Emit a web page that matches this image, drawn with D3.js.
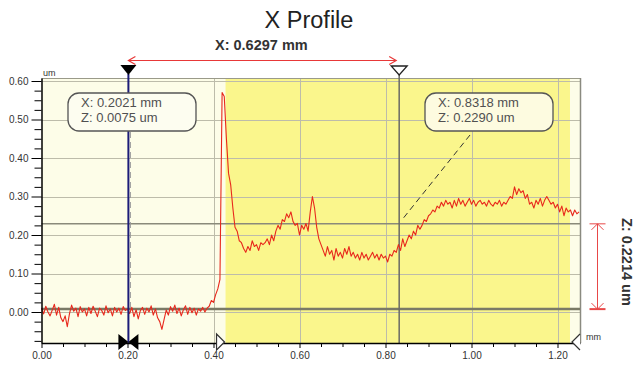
<!DOCTYPE html>
<html>
<head>
<meta charset="utf-8">
<script src="https://cdn.jsdelivr.net/npm/d3@7"></script>
<style>
  html, body { margin: 0; padding: 0; background: #ffffff; }
  svg { display: block; font-family: "Liberation Sans", Arial, sans-serif; }
</style>
</head>
<body>
<svg id="chart" width="637" height="367"></svg>
<script>
// ---------------- DATA ----------------
const titleText = "X Profile";
const xStart = 0.0;          // mm, first sample
const xStep = 0.005;         // mm, sampling interval
const profileZ = [
  0.010,-0.005,0.015,0.000,-0.010,0.005,0.020,-0.008,0.012,-0.015,
  -0.025,-0.010,-0.038,-0.005,0.018,0.002,0.010,-0.012,0.014,0.000,
  0.008,-0.010,0.012,-0.004,0.015,0.002,-0.012,0.010,0.004,-0.008,
  0.016,-0.002,0.008,-0.010,0.012,0.000,0.010,-0.006,0.014,0.004,
  0.008,-0.004,0.012,-0.012,0.006,-0.018,0.004,0.012,-0.006,0.010,
  0.000,0.016,-0.008,0.008,-0.015,-0.025,-0.045,-0.020,0.005,-0.008,
  0.014,0.002,0.018,-0.004,0.010,-0.010,0.006,0.016,-0.006,0.012,
  -0.002,0.010,-0.008,0.008,0.002,0.012,0.000,0.010,0.015,0.030,
  0.025,0.045,0.060,0.085,0.570,0.560,0.450,0.360,0.330,0.270,
  0.220,0.210,0.185,0.180,0.165,0.155,0.170,0.160,0.185,0.170,
  0.175,0.160,0.180,0.175,0.180,0.190,0.175,0.200,0.185,0.210,
  0.225,0.215,0.240,0.235,0.255,0.245,0.260,0.235,0.225,0.230,
  0.200,0.225,0.215,0.230,0.210,0.260,0.300,0.270,0.220,0.190,
  0.175,0.160,0.145,0.170,0.150,0.160,0.135,0.165,0.145,0.155,
  0.140,0.165,0.150,0.170,0.145,0.155,0.140,0.150,0.135,0.155,
  0.140,0.150,0.135,0.145,0.155,0.140,0.150,0.135,0.150,0.140,
  0.145,0.130,0.150,0.145,0.160,0.155,0.175,0.160,0.190,0.170,
  0.185,0.200,0.190,0.210,0.200,0.225,0.215,0.225,0.240,0.235,
  0.250,0.255,0.265,0.260,0.275,0.270,0.285,0.275,0.290,0.280,
  0.285,0.270,0.290,0.275,0.295,0.280,0.290,0.275,0.285,0.295,
  0.280,0.290,0.275,0.285,0.290,0.280,0.285,0.275,0.290,0.280,
  0.275,0.285,0.280,0.290,0.275,0.285,0.280,0.290,0.300,0.295,
  0.325,0.305,0.320,0.310,0.315,0.295,0.305,0.280,0.285,0.270,
  0.290,0.280,0.295,0.275,0.290,0.300,0.290,0.280,0.285,0.270,
  0.280,0.260,0.275,0.250,0.270,0.260,0.265,0.250,0.265,0.255,0.260
];
const xTickValues = [0.00, 0.20, 0.40, 0.60, 0.80, 1.00, 1.20];
const xTickLabels = ["0.00", "0.20", "0.40", "0.60", "0.80", "1.00", "1.20"];
const yTickValues = [0.00, 0.10, 0.20, 0.30, 0.40, 0.50, 0.60];
const yTickLabels = ["0.00", "0.10", "0.20", "0.30", "0.40", "0.50", "0.60"];
const xDomain = [0, 1.2523];
const yDomain = [-0.0805, 0.6078];
const regionX = [0.428, 1.229];      // highlighted (yellow) region, mm
const cursorX = [0.2021, 0.8318];    // mm
const cursorZ = [0.0075, 0.2290];    // um
const cursorLabels = [["X: 0.2021 mm", "Z: 0.0075 um"], ["X: 0.8318 mm", "Z: 0.2290 um"]];
const deltaXLabel = "X: 0.6297 mm";
const deltaZLabel = "Z: 0.2214 um";
const xUnit = "mm", yUnit = "um";

// ---------------- LAYOUT ----------------
const svg = d3.select("#chart");
const L = 41.5, R = 580, T = 78, B = 343;
const x = d3.scaleLinear().domain(xDomain).range([L, R]);
const y = d3.scaleLinear().domain(yDomain).range([B, T]);

// backgrounds
svg.append("rect").attr("x", L).attr("y", T).attr("width", R - L).attr("height", B - T).attr("fill", "#fdfde8");
svg.append("rect").attr("x", x(regionX[0])).attr("y", T).attr("width", x(regionX[1]) - x(regionX[0])).attr("height", B - T).attr("fill", "#faf68c");

// grid
const grid = svg.append("g").attr("stroke", "#bdbcaa").attr("stroke-width", 1);
xTickValues.forEach(v => {
  if (v === 0) return;
  grid.append("line").attr("x1", Math.round(x(v)) + 0.5).attr("x2", Math.round(x(v)) + 0.5).attr("y1", T).attr("y2", B);
});
yTickValues.forEach(v => {
  grid.append("line").attr("x1", L).attr("x2", R).attr("y1", Math.round(y(v)) + 0.5).attr("y2", Math.round(y(v)) + 0.5);
});

// frame (top / right)
svg.append("line").attr("x1", L).attr("x2", R).attr("y1", T + 0.5).attr("y2", T + 0.5).attr("stroke", "#9a9a8a");
svg.append("line").attr("x1", R + 0.5).attr("x2", R + 0.5).attr("y1", T).attr("y2", B).attr("stroke", "#8a8a80").attr("stroke-width", 1.5);

// cursor horizontal lines
svg.append("line").attr("x1", L).attr("x2", R).attr("y1", y(cursorZ[0])).attr("y2", y(cursorZ[0]))
  .attr("stroke", "#7a7a66").attr("stroke-width", 2.5);
svg.append("line").attr("x1", L).attr("x2", R).attr("y1", y(cursorZ[1])).attr("y2", y(cursorZ[1]))
  .attr("stroke", "#8a8a7a").attr("stroke-width", 1.5);

// cursor vertical lines
svg.append("line").attr("x1", x(cursorX[1])).attr("x2", x(cursorX[1])).attr("y1", T - 3).attr("y2", B)
  .attr("stroke", "#6a6a66").attr("stroke-width", 1.5);

// profile
const pts = profileZ.map((z, i) => [xStart + i * xStep, z]);
const line = d3.line().x(d => x(d[0])).y(d => y(d[1]));
svg.append("path").datum(pts).attr("d", line).attr("fill", "none")
  .attr("stroke", "#e8281c").attr("stroke-width", 1.1).attr("stroke-linejoin", "round");

svg.append("line").attr("x1", x(cursorX[0])).attr("x2", x(cursorX[0])).attr("y1", T - 4).attr("y2", B)
  .attr("stroke", "#1c1c78").attr("stroke-width", 2);

// dashed leader lines
svg.append("line").attr("x1", x(cursorX[0]) + 2).attr("x2", x(cursorX[0]) + 2).attr("y1", 132).attr("y2", y(cursorZ[0]))
  .attr("stroke", "#9a9a9a").attr("stroke-width", 1).attr("stroke-dasharray", "6,4");
svg.append("line").attr("x1", 470).attr("y1", 135).attr("x2", x(cursorX[1]) + 2).attr("y2", y(cursorZ[1]) - 3)
  .attr("stroke", "#333").attr("stroke-width", 1).attr("stroke-dasharray", "6,4");

// annotation boxes
const boxes = [{bx: 68, by: 93, w: 128, h: 38}, {bx: 425, by: 93, w: 128, h: 38}];
boxes.forEach((b, i) => {
  svg.append("rect").attr("x", b.bx).attr("y", b.by).attr("width", b.w).attr("height", b.h)
    .attr("rx", 11).attr("ry", 11).attr("fill", i === 0 ? "#fdfdf0" : "#fdfbe0")
    .attr("stroke", "#555").attr("stroke-width", 1.3);
  cursorLabels[i].forEach((t, j) => {
    svg.append("text").attr("x", b.bx + 13).attr("y", b.by + 14 + j * 15)
      .attr("font-size", 13).attr("fill", "#505050").text(t);
  });
});

// axes
const yAxis = d3.axisLeft(y).tickValues(yTickValues).tickSize(10).tickPadding(3).tickSizeOuter(0)
  .tickFormat((d, i) => yTickLabels[i]);
const gy = svg.append("g").attr("transform", `translate(${L},0)`).call(yAxis);
const yMinor = d3.range(-0.075, 0.6, 0.025).filter(v => Math.abs(v * 10 - Math.round(v * 10)) > 1e-6);
svg.append("g").attr("transform", `translate(${L},0)`)
  .call(d3.axisLeft(y).tickValues(yMinor).tickSize(7).tickFormat("").tickSizeOuter(0))
  .select(".domain").remove();
gy.select(".domain").attr("stroke", "#000").attr("stroke-width", 1.5);
gy.selectAll("text").attr("font-size", 10).attr("fill", "#333");
gy.selectAll(".tick line").attr("stroke", "#000");

const xAxis = d3.axisBottom(x).tickValues(xTickValues).tickSize(5).tickPadding(4).tickSizeOuter(0)
  .tickFormat((d, i) => xTickLabels[i]);
const gx = svg.append("g").attr("transform", `translate(0,${B})`).call(xAxis);
const xMinor = d3.range(0.05, 1.25, 0.05).filter(v => Math.abs(v * 5 - Math.round(v * 5)) > 1e-6);
svg.append("g").attr("transform", `translate(0,${B})`)
  .call(d3.axisBottom(x).tickValues(xMinor).tickSize(4).tickFormat("").tickSizeOuter(0))
  .select(".domain").remove();
gx.select(".domain").attr("stroke", "#000").attr("stroke-width", 1.5);
gx.selectAll("text").attr("font-size", 10).attr("fill", "#333");

// unit labels
svg.append("text").attr("x", 43).attr("y", 76).attr("font-size", 9).attr("fill", "#333").text(yUnit);
svg.append("text").attr("x", 586).attr("y", 340).attr("font-size", 9).attr("fill", "#333").text(xUnit);

// markers
const c1 = x(cursorX[0]), c2 = x(cursorX[1]);
svg.append("path").attr("d", `M${c1 - 8},65 L${c1 + 8},65 L${c1},75 Z`).attr("fill", "#000");
svg.append("path").attr("d", `M${c2 - 8},66 L${c2 + 8},66 L${c2},75 Z`).attr("fill", "#fff").attr("stroke", "#222").attr("stroke-width", 1.3);
svg.append("path").attr("d", `M${c1 - 10},334 L${c1},342 L${c1 - 10},350 Z M${c1 + 10},334 L${c1},342 L${c1 + 10},350 Z`).attr("fill", "#000");
const r0 = x(regionX[0]), r1 = x(regionX[1]);
svg.append("path").attr("d", `M${r0 - 9},334 L${r0 - 1},342 L${r0 - 9},350 Z`).attr("fill", "#fff").attr("stroke", "#333").attr("stroke-width", 1.2);
svg.append("path").attr("d", `M${R},334 L${r1 + 2},342 L${R},350`).attr("fill", "#fff").attr("stroke", "#333").attr("stroke-width", 1.2);

// delta X arrow
const ay = 60.5;
svg.append("line").attr("x1", c1).attr("x2", c2 - 3).attr("y1", ay).attr("y2", ay).attr("stroke", "#e83838").attr("stroke-width", 1.2);
svg.append("path").attr("d", `M${c1 + 7},${ay - 4} L${c1},${ay} L${c1 + 7},${ay + 4}`).attr("fill", "none").attr("stroke", "#e83838").attr("stroke-width", 1.2);
svg.append("path").attr("d", `M${c2 - 10},${ay - 4} L${c2 - 3},${ay} L${c2 - 10},${ay + 4}`).attr("fill", "none").attr("stroke", "#e83838").attr("stroke-width", 1.2);
svg.append("text").attr("x", 215).attr("y", 50).attr("font-size", 14.5).attr("font-weight", "bold").attr("fill", "#333").text(deltaXLabel);

// delta Z arrow
const zx = 597.5, zt = y(cursorZ[1]), zb = y(cursorZ[0]);
const zg = svg.append("g").attr("stroke", "#e84848").attr("fill", "none").attr("stroke-width", 1);
zg.append("line").attr("x1", zx).attr("x2", zx).attr("y1", zt).attr("y2", zb);
zg.append("line").attr("x1", zx - 8).attr("x2", zx + 8).attr("y1", zt).attr("y2", zt);
zg.append("path").attr("d", `M${zx - 6},${zt + 6} L${zx},${zt} L${zx + 6},${zt + 6}`);
zg.append("line").attr("x1", zx - 8).attr("x2", zx + 8).attr("y1", zb).attr("y2", zb).attr("stroke-width", 2);
zg.append("path").attr("d", `M${zx - 6},${zb - 6} L${zx},${zb} L${zx + 6},${zb - 6}`);
svg.append("text").attr("transform", `translate(622,218) rotate(90)`).attr("font-size", 14.5).attr("font-weight", "bold")
  .attr("fill", "#333").text(deltaZLabel);

// title
svg.append("text").attr("x", 309).attr("y", 28).attr("text-anchor", "middle").attr("font-size", 23.5).attr("fill", "#222").text(titleText);
</script>
</body>
</html>
